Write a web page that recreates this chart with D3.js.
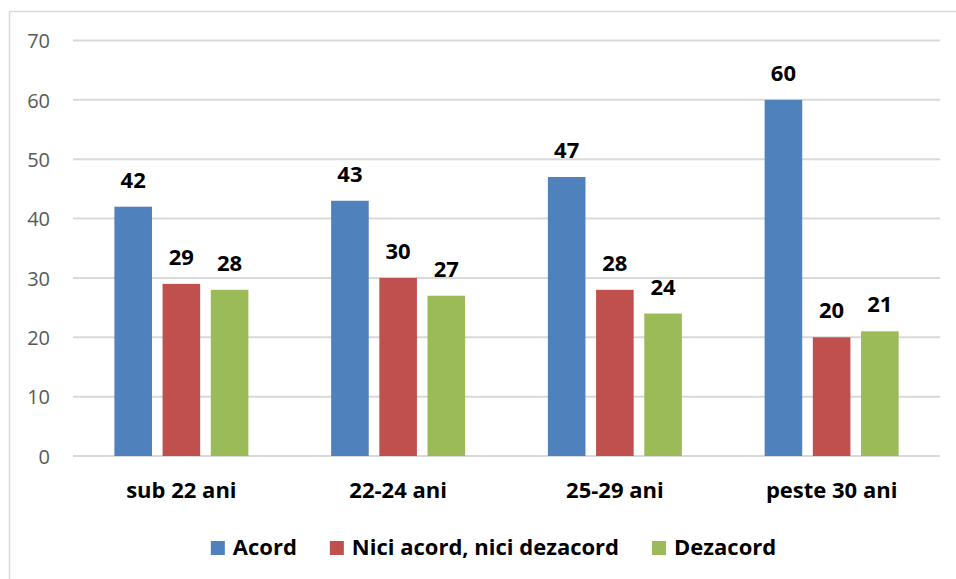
<!DOCTYPE html>
<html>
<head>
<meta charset="utf-8">
<script src="https://cdn.jsdelivr.net/npm/d3@7"></script>
<style>
  html, body { margin: 0; padding: 0; background: #fff; }
  svg { display: block; }
</style>
</head>
<body>
<svg id="chart" width="956" height="579"></svg>
<script>
// Age groups on the x axis
const categories = ["sub 22 ani", "22-24 ani", "25-29 ani", "peste 30 ani"];
// Response series
const seriesNames = ["Acord", "Nici acord, nici dezacord", "Dezacord"];
const seriesColors = ["#4f81bd", "#c0504d", "#9bbb59"];
// Values per series, one per age group
const acord = [42, 43, 47, 60];
const neutru = [29, 30, 28, 20];
const dezacord = [28, 27, 24, 21];
const seriesValues = [acord, neutru, dezacord];
// Y axis ticks
const yTicks = [0, 10, 20, 30, 40, 50, 60, 70];

const svg = d3.select("#chart");
const font = "'Open Sans', 'DejaVu Sans', sans-serif";

// Outer chart frame
svg.append("rect")
  .attr("x", 9.5).attr("y", 11.5)
  .attr("width", 960).attr("height", 600)
  .attr("fill", "#fff")
  .attr("stroke", "#d9d9d9")
  .attr("stroke-width", 1.5);

const plot = { left: 73, right: 940, top: 40.5, bottom: 456 };

const y = d3.scaleLinear().domain([0, 70]).range([plot.bottom, plot.top]);
const x0 = d3.scaleBand().domain(categories).range([plot.left, plot.right]).padding(0);
const groupWidth = 134;
const x1 = d3.scaleBand().domain(seriesNames).range([0, groupWidth]).paddingInner(0.22).paddingOuter(0);

// Gridlines
svg.append("g").selectAll("line").data(yTicks).join("line")
  .attr("x1", plot.left).attr("x2", plot.right)
  .attr("y1", d => y(d)).attr("y2", d => y(d))
  .attr("stroke", "#d9d9d9").attr("stroke-width", 2);

// Y axis tick labels
const yAxis = d3.axisLeft(y).tickValues(yTicks).tickSize(0).tickPadding(0);
const yg = svg.append("g").attr("transform", `translate(50,0)`).call(yAxis);
yg.select(".domain").remove();
yg.selectAll("text")
  .attr("font-family", font).attr("font-size", 20)
  .attr("fill", "#595959").attr("x", 0).attr("dy", "0.36em");

// Bars and value labels
const groups = svg.append("g").selectAll("g").data(categories).join("g")
  .attr("transform", c => `translate(${x0(c) + (x0.bandwidth() - groupWidth) / 2},0)`);

groups.each(function(c, ci) {
  const g = d3.select(this);
  const rows = seriesNames.map((s, si) => ({ s, si, v: seriesValues[si][ci] }));
  g.selectAll("rect").data(rows).join("rect")
    .attr("x", d => x1(d.s))
    .attr("y", d => y(d.v))
    .attr("width", x1.bandwidth())
    .attr("height", d => y(0) - y(d.v))
    .attr("fill", d => seriesColors[d.si]);
  g.selectAll("text").data(rows).join("text")
    .attr("x", d => x1(d.s) + x1.bandwidth() / 2)
    .attr("y", d => y(d.v) - 19)
    .attr("text-anchor", "middle")
    .attr("font-family", font).attr("font-size", 22).attr("font-weight", "bold")
    .attr("fill", "#000")
    .text(d => d.v);
});

// Category labels
const xAxis = d3.axisBottom(x0).tickSize(0).tickPadding(0);
const xg = svg.append("g").attr("transform", `translate(0,498)`).call(xAxis);
xg.select(".domain").remove();
xg.selectAll("text")
  .attr("font-family", font).attr("font-size", 22).attr("font-weight", "bold")
  .attr("fill", "#000").attr("y", 0).attr("dy", 0);

// Legend
const legend = svg.append("g");
let lx = 0;
seriesNames.forEach((name, i) => {
  const item = legend.append("g").attr("transform", `translate(${lx},0)`);
  item.append("rect").attr("x", 0).attr("y", 541).attr("width", 14).attr("height", 14)
    .attr("fill", seriesColors[i]);
  const t = item.append("text").attr("x", 22).attr("y", 555)
    .attr("font-family", font).attr("font-size", 22).attr("font-weight", "bold")
    .attr("fill", "#000").text(name);
  lx += 22 + t.node().getComputedTextLength() + 33;
});
const legendWidth = lx - 33;
legend.attr("transform", `translate(${493.5 - legendWidth / 2},0)`);
</script>
</body>
</html>
